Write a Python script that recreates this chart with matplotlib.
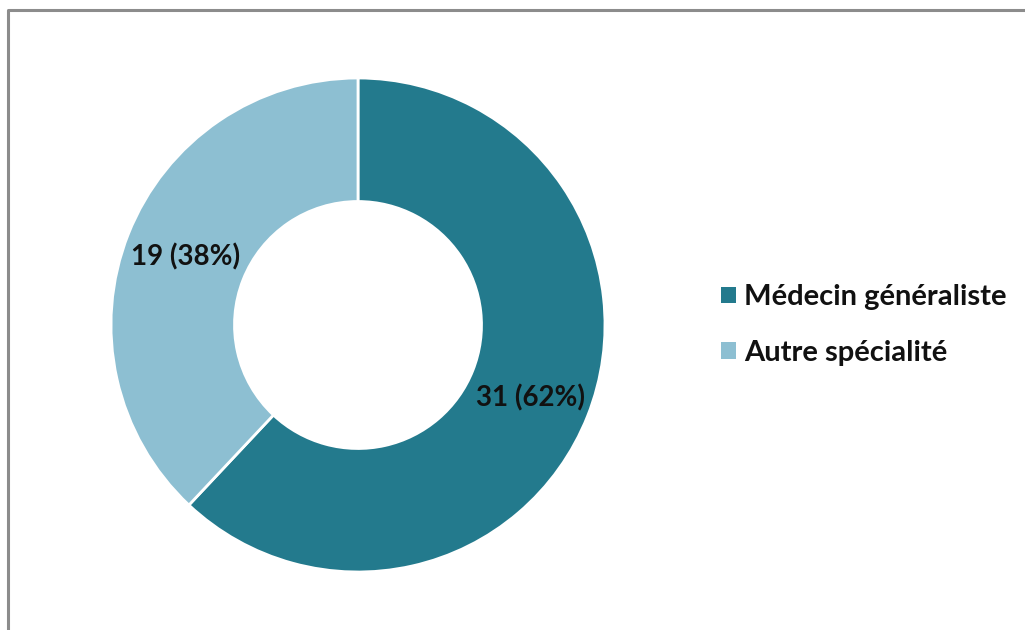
import matplotlib
matplotlib.use("Agg")
import matplotlib.pyplot as plt
from matplotlib.lines import Line2D
from matplotlib.patches import Patch

categories = ["Médecin généraliste", "Autre spécialité"]
counts = [31, 19]
colors = ["#237A8D", "#8DBFD2"]

plt.rcParams['font.family'] = ['Lato', 'DejaVu Sans']

W, H = 1025, 630
fig = plt.figure(figsize=(W / 100, H / 100), dpi=100)
fig.patch.set_facecolor("white")

# frame border (top and left only visible)
fig.lines.append(Line2D([8 / W, 8 / W, 1.05], [-0.05, (H - 10) / H, (H - 10) / H],
                        transform=fig.transFigure, color="#8c8c8c", linewidth=2.2))

cx, cy, r = 358, H - 325, 247
m = 1.05
ax = fig.add_axes([(cx - r * m) / W, (cy - r * m) / H, 2 * r * m / W, 2 * r * m / H])
total = sum(counts)


def fmt(p):
    v = int(round(p * total / 100))
    return f"{v} ({p:.0f}%)"


wedges, texts, autotexts = ax.pie(
    counts, colors=colors, startangle=90, counterclock=False, radius=1,
    wedgeprops=dict(width=0.5, edgecolor="white", linewidth=2),
    autopct=fmt, pctdistance=0.75,
    textprops=dict(fontsize=20, color="#111111", fontweight="bold"))
autotexts[0].set_y(autotexts[0].get_position()[1] - 0.02)
ax.set_xlim(-m, m)
ax.set_ylim(-m, m)
ax.axis("off")

handles = [Patch(facecolor=c, edgecolor="none") for c in colors]
fig.legend(handles, categories, loc="center left",
           bbox_to_anchor=(721 / W, (H - 325) / H), frameon=False,
           prop=dict(size=21, weight="bold"), handlelength=0.5, handleheight=0.5,
           handletextpad=0.3, labelspacing=1.0, borderpad=0, borderaxespad=0,
           labelcolor="#111111")

fig.savefig("out.png", dpi=100, facecolor="white")
